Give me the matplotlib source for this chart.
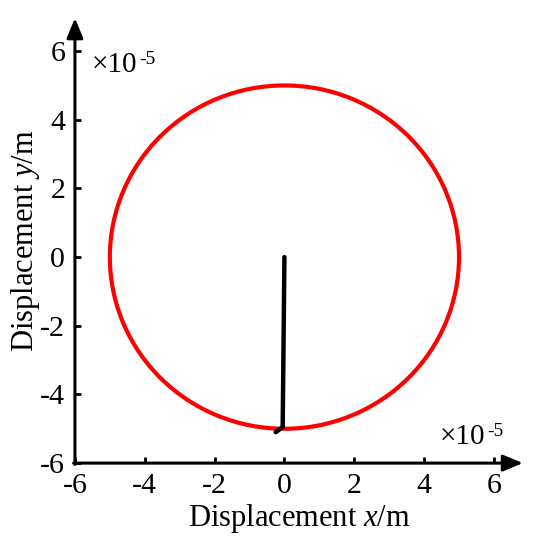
import matplotlib
matplotlib.use("Agg")
import matplotlib.pyplot as plt
from matplotlib.patches import Circle

plt.rcParams['font.family'] = ['Liberation Serif', 'DejaVu Serif']
plt.rcParams['mathtext.fontset'] = 'custom'
plt.rcParams['mathtext.rm'] = 'Liberation Serif'
plt.rcParams['mathtext.it'] = 'Liberation Serif:italic'

# Data (units of 1e-5 m)
circle_center = (0.0, 0.0)
circle_radius = 5.0
path_x = [0.0, -0.05, -0.25]
path_y = [0.0, -4.95, -5.1]
ticks = [-6, -4, -2, 0, 2, 4, 6]
tick_labels = ['-6', '-4', '-2', '0', '2', '4', '6']

fig = plt.figure(figsize=(5.43, 5.5), dpi=100)
ax = fig.add_axes([0.138, 0.158, 0.825, 0.809])
ax.set_xlim(-6, 6.83)
ax.set_ylim(-6, 6.96)

ax.add_patch(Circle(circle_center, circle_radius, fill=False, edgecolor='#ff0000', linewidth=3.0))
ax.plot(path_x, path_y, color='black', linewidth=3.2, solid_capstyle='round')

for s in ['top', 'right', 'left', 'bottom']:
    ax.spines[s].set_visible(False)

# axes with arrows
ax.annotate('', xy=(1.0, 0.0), xycoords='axes fraction', xytext=(-0.003, 0.0),
            arrowprops=dict(arrowstyle='-|>,head_length=1.2,head_width=0.5', color='black', lw=2.2, shrinkA=0, shrinkB=0))
ax.annotate('', xy=(0.0, 1.0), xycoords='axes fraction', xytext=(0.0, -0.003),
            arrowprops=dict(arrowstyle='-|>,head_length=1.2,head_width=0.5', color='black', lw=2.2, shrinkA=0, shrinkB=0))

ax.set_xticks(ticks)
ax.set_xticklabels(tick_labels)
ax.set_yticks(ticks)
ax.set_yticklabels(tick_labels)
ax.tick_params(direction='in', length=4, width=2, labelsize=21.5, pad=7)

# multiplier labels
t1 = ax.text(0.038, 0.894, '\u00d710', transform=ax.transAxes, fontsize=21, ha='left', va='center')
ax.annotate('-5', xy=(1.0, 1.0), xycoords=t1, xytext=(1, 1), textcoords='offset points',
            fontsize=14, ha='left', va='top')
t2 = ax.text(0.815, 0.058, '\u00d710', transform=ax.transAxes, fontsize=21, ha='left', va='center')
ax.annotate('-5', xy=(1.0, 1.0), xycoords=t2, xytext=(1, 1), textcoords='offset points',
            fontsize=14, ha='left', va='top')

ax.set_xlabel(r'Displacement $\mathit{x}$/m', fontsize=22, labelpad=2)
ax.set_ylabel(r'Displacement $\mathit{y}$/m', fontsize=22, labelpad=-1)

fig.savefig('out.png', dpi=100)
